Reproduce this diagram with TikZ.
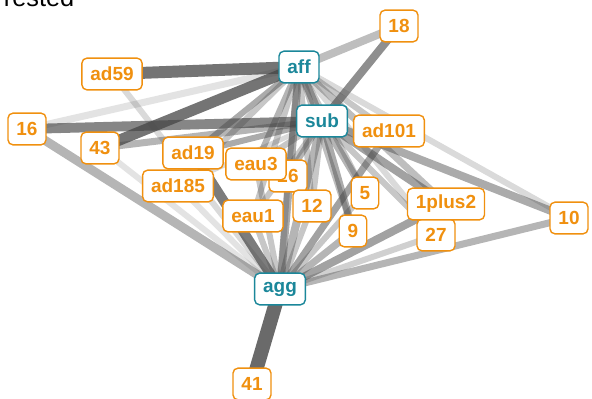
\documentclass[tikz,border=0pt]{standalone}
\usepackage{fontspec}
\setmainfont{Liberation Sans}
\usetikzlibrary{backgrounds}
\tikzset{
  leaf/.style={draw=leaforange, text=leaforange, fill=white, line width=1pt,
    rounded corners=3.5pt, inner xsep=6pt, inner ysep=0pt,
    minimum height=22.5pt, font=\fontsize{13.5}{13.5}\selectfont\bfseries},
  hub/.style={leaf, draw=hubteal, text=hubteal},
  link/.style 2 args={line width=#1, draw=linkgray, draw opacity=#2}
}

\begin{document}
\begin{tikzpicture}[x=0.025cm, y=-0.025cm]
	\definecolor{leaforange}{HTML}{F0900F}
	\definecolor{hubteal}{HTML}{1B879A}
	\definecolor{linkgray}{HTML}{454545}
	\useasboundingbox (0,0) rectangle (592,399);

	\node[anchor=base west, font=\fontsize{18}{18}\selectfont] (title) at (-1,7) {rested};

	% leaves
	\node[leaf] (n18) at (399,26) {18};
	\node[leaf] (ad59) at (112,74) {ad59};
	\node[leaf] (n16) at (27,129) {16};
	\node[leaf] (n43) at (100,148) {43};
	\node[leaf] (ad19) at (193,153) {ad19};
	\node[leaf] (ad185) at (178,186) {ad185};
	\node[leaf] (n26) at (288,176) {26};
	\node[leaf] (eau3) at (256,164) {eau3};
	\node[leaf] (eau1) at (253,216) {eau1};
	\node[leaf] (n12) at (312,206) {12};
	\node[leaf] (n5) at (365,193) {5};
	\node[leaf] (n9) at (353,231) {9};
	\node[leaf] (ad101) at (389,131) {ad101};
	\node[leaf] (n27) at (436,235) {27};
	\node[leaf] (n1plus2) at (446,204) {1plus2};
	\node[leaf] (n10) at (569,218) {10};
	\node[leaf] (n41) at (252,384) {41};

	% hubs
	\node[hub] (aff) at (299,67) {aff};
	\node[hub] (sub) at (322,121) {sub};
	\node[hub] (agg) at (280,289) {agg};

	\begin{scope}[on background layer]
		% aff
		\draw[link={8.5pt}{.75}] (aff.center) -- (ad59.center);
		\draw[link={5.7pt}{.35}] (aff.center) -- (n18.center);
		\draw[link={5pt}{.15}] (aff.center) -- (n16.center);
		\draw[link={7.8pt}{.75}] (aff.center) -- (n43.center);
		\draw[link={4.3pt}{.2}] (aff.center) -- (n10.center);
		\draw[link={5.7pt}{.45}] (aff.center) -- (sub.center);
		\draw[link={5.7pt}{.45}] (aff.center) -- (agg.center);
		\draw[link={4.3pt}{.45}] (aff.center) -- (ad19.center);
		\draw[link={4.3pt}{.3}] (aff.center) -- (ad185.center);
		\draw[link={4.3pt}{.4}] (aff.center) -- (eau3.center);
		\draw[link={4.3pt}{.35}] (aff.center) -- (n26.center);
		\draw[link={4.3pt}{.3}] (aff.center) -- (eau1.center);
		\draw[link={4.3pt}{.3}] (aff.center) -- (n12.center);
		\draw[link={4.3pt}{.3}] (aff.center) -- (n5.center);
		\draw[link={4.3pt}{.35}] (aff.center) -- (n9.center);
		\draw[link={5pt}{.35}] (aff.center) -- (n1plus2.center);
		\draw[link={4.3pt}{.2}] (aff.center) -- (n27.center);
		\draw[link={4.3pt}{.3}] (aff.center) -- (ad101.center);
		% sub
		\draw[link={7pt}{.65}] (sub.center) -- (n16.center);
		\draw[link={5.7pt}{.6}] (sub.center) -- (n18.center);
		\draw[link={5pt}{.4}] (sub.center) -- (n43.center);
		\draw[link={5.7pt}{.45}] (sub.center) -- (n10.center);
		\draw[link={5.7pt}{.4}] (sub.center) -- (agg.center);
		\draw[link={4.3pt}{.45}] (sub.center) -- (ad19.center);
		\draw[link={3.5pt}{.2}] (sub.center) -- (ad185.center);
		\draw[link={4.3pt}{.3}] (sub.center) -- (eau3.center);
		\draw[link={4.3pt}{.4}] (sub.center) -- (n26.center);
		\draw[link={4.3pt}{.3}] (sub.center) -- (eau1.center);
		\draw[link={4.3pt}{.3}] (sub.center) -- (n12.center);
		\draw[link={5pt}{.4}] (sub.center) -- (n5.center);
		\draw[link={5pt}{.45}] (sub.center) -- (n9.center);
		\draw[link={5.7pt}{.5}] (sub.center) -- (n1plus2.center);
		\draw[link={4.3pt}{.3}] (sub.center) -- (n27.center);
		% agg
		\draw[link={10pt}{.8}] (agg.center) -- (n41.center);
		\draw[link={6.4pt}{.4}] (agg.center) -- (n16.center);
		\draw[link={4.3pt}{.15}] (agg.center) -- (n43.center);
		\draw[link={4.3pt}{.2}] (agg.center) -- (ad59.center);
		\draw[link={7pt}{.7}] (agg.center) -- (ad19.center);
		\draw[link={4.3pt}{.15}] (agg.center) -- (ad185.center);
		\draw[link={4.3pt}{.3}] (agg.center) -- (eau3.center);
		\draw[link={4.3pt}{.3}] (agg.center) -- (eau1.center);
		\draw[link={4.3pt}{.3}] (agg.center) -- (n26.center);
		\draw[link={4.3pt}{.3}] (agg.center) -- (n12.center);
		\draw[link={4.3pt}{.3}] (agg.center) -- (n5.center);
		\draw[link={5pt}{.4}] (agg.center) -- (n9.center);
		\draw[link={5.7pt}{.5}] (agg.center) -- (n1plus2.center);
		\draw[link={4.3pt}{.25}] (agg.center) -- (n27.center);
		\draw[link={5pt}{.4}] (agg.center) -- (n10.center);
		\draw[link={5pt}{.5}] (agg.center) -- (ad101.center);
	\end{scope}
\end{tikzpicture}
\end{document}
